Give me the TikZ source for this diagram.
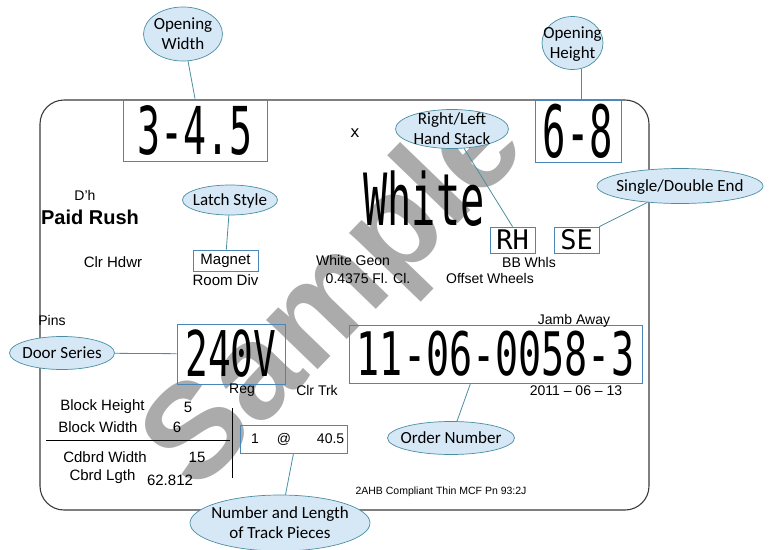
\documentclass[tikz,border=0pt]{standalone}
\usepackage{fontspec}
\usepackage{graphicx}
\setmainfont{Liberation Sans}
\newfontfamily\ocrfont{DejaVu Sans Mono}
\newfontfamily\tagfont{Carlito}
\usepackage{xcolor}
\usetikzlibrary{shapes.geometric,positioning}
\definecolor{calloutfill}{HTML}{D6E7F6}
\definecolor{calloutline}{HTML}{4A8EA2}
\definecolor{boxline}{HTML}{4A86B8}
\definecolor{frameline}{HTML}{3A3A3A}
\definecolor{stamp}{HTML}{ABABAB}
\newcommand{\ocrtext}[3]{\scalebox{#2}[1]{\fontsize{#1}{#1}\ocrfont #3}}
\newcommand{\calltext}[1]{\makebox[0pt]{\smash{\raisebox{-0.34em}{\begin{tabular}{@{}c@{}}#1\end{tabular}}}}}

\begin{document}
\begin{tikzpicture}[x=1pt,y=-1pt,
   callout/.style={ellipse,draw=calloutline,line width=0.7pt,fill=calloutfill,inner sep=0pt,font=\fontsize{17}{20}\tagfont},
   tagbox/.style={draw=boxline,line width=0.8pt,inner sep=0pt},
   lnk/.style={draw=calloutline,line width=0.8pt},
   lbl/.style={inner sep=0pt,font=\fontsize{14}{14}\selectfont}]
  \useasboundingbox (0,0) rectangle (770,549);
  % watermark and label outline
  \node[rotate=46,text=stamp,inner sep=0pt,font=\fontsize{135}{135}\selectfont\bfseries] (sample) at (338,298) {Sample};
  \draw[frameline,line width=1.1pt,rounded corners=24pt] (40,100) rectangle (649,510);
  % boxed fields
  \node[tagbox,minimum width=144,minimum height=62] (wd) at (195,130) {\ocrtext{66}{0.58}{3-4.5}};
  \node[tagbox,minimum width=86,minimum height=62] (ht) at (578,131) {\ocrtext{72}{0.54}{6-8}};
  \node[tagbox,minimum width=45,minimum height=26] (rh) at (512.5,240) {\ocrtext{27}{1}{RH}};
  \node[tagbox,minimum width=45,minimum height=26] (se) at (576.5,240) {\ocrtext{27}{1}{SE}};
  \node[tagbox,minimum width=65,minimum height=21,font=\fontsize{15}{15}\selectfont] (mg) at (225.5,260.5) {Magnet};
  \node[tagbox,minimum width=108,minimum height=60] (sv) at (231,354) {\ocrtext{63}{0.6}{240V}};
  \node[tagbox,minimum width=293,minimum height=58] (num) at (495.5,354) {\ocrtext{60}{0.64}{11-06-0058-3}};
  \node[tagbox,minimum width=107,minimum height=28,font=\fontsize{14}{14}\selectfont] (tr) at (293.5,439)
     {\makebox[107pt][l]{\hspace{11pt}1\hspace{18pt}@\hspace{26pt}40.5}};
  % printed label text
  \node[lbl] (xs) at (355,133) {\ocrtext{16}{1}{x}};
  \node[lbl] (colour) at (424,199) {\ocrtext{72}{0.56}{White}};
  \node[lbl] (dh) at (85,195) {D'h};
  \node[lbl,font=\fontsize{20}{20}\selectfont\bfseries] (style) at (90,217) {Paid Rush};
  \node[lbl,font=\fontsize{15}{15}\selectfont] (hdwr) at (113,262) {Clr Hdwr};
  \node[lbl,font=\fontsize{15}{15}\selectfont,below=3pt of mg] (room) {Room Div};
  \node[lbl] (geon) at (353,260) {White Geon};
  \node[lbl] (flcl) at (368,278) {0.4375 Fl. Cl.};
  \node[lbl] (bbw) at (529,262) {BB Whls};
  \node[lbl] (offw) at (490,278) {Offset Wheels};
  \node[lbl] (pins) at (52,320) {Pins};
  \node[lbl] (jamb) at (574,321) {Jamb Away};
  \node[lbl] (reg) at (242,390) {Reg};
  \node[lbl] (trk) at (317,390) {Clr Trk};
  \node[lbl] (date) at (576,391) {2011 -- 06 -- 13};
  \node[lbl,font=\fontsize{10.5}{10.5}\selectfont] (spec) at (441,492) {2AHB Compliant Thin MCF Pn 93:2J};
  % block and cord table
  \node[lbl,font=\fontsize{15}{15}\selectfont] (bh) at (102.5,407) {Block Height};
  \node[lbl,font=\fontsize{15}{15}\selectfont] (bhv) at (188,407) {5};
  \node[lbl,font=\fontsize{15}{15}\selectfont] (bw) at (98,427) {Block Width};
  \node[lbl,font=\fontsize{15}{15}\selectfont] (bwv) at (177,427) {6};
  \node[lbl,font=\fontsize{15}{15}\selectfont] (cw) at (105,457) {Cdbrd Width};
  \node[lbl,font=\fontsize{15}{15}\selectfont] (cwv) at (197,457) {15};
  \node[lbl,font=\fontsize{15}{15}\selectfont] (cl) at (102.5,477) {Cbrd Lgth};
  \node[lbl,font=\fontsize{15}{15}\selectfont] (clv) at (170,480) {62.812};
  \draw[black,line width=0.9pt] (46,440) -- (230,440);
  \draw[black,line width=0.9pt] (232,408) -- (232,478);
  % callouts
  \node[callout,minimum width=79,minimum height=54] (ow) at (183,34) {\calltext{Opening\\Width}};
  \node[callout,minimum width=61,minimum height=53] (oh) at (572.5,43) {\calltext{Opening\\Height}};
  \node[callout,minimum width=113,minimum height=39] (rl) at (452,129) {\calltext{Right/Left\\Hand Stack}};
  \node[callout,minimum width=166,minimum height=35] (sd) at (680,186) {\calltext{Single/Double End}};
  \node[callout,minimum width=95,minimum height=30] (ls) at (230,200) {\calltext{Latch Style}};
  \node[callout,minimum width=105,minimum height=33] (ds) at (62,353) {\calltext{Door Series}};
  \node[callout,minimum width=127,minimum height=33] (on) at (451,438) {\calltext{Order Number}};
  \node[callout,minimum width=180,minimum height=56] (nl) at (280,523) {\calltext{Number and Length\\of Track Pieces}};
  \draw[lnk] (ow) -- (wd.north);
  \draw[lnk] (oh.-72) -- (oh.-72 |- ht.north);
  \draw[lnk] (rl) -- (rh.north);
  \draw[lnk] (sd) -- (se.north east);
  \draw[lnk] (ls) -- (mg);
  \draw[lnk] (ds) -- (sv);
  \draw[lnk] (on) -- ([xshift=-25pt]num.south);
  \draw[lnk] (nl) -- (tr.south);
\end{tikzpicture}
\end{document}
